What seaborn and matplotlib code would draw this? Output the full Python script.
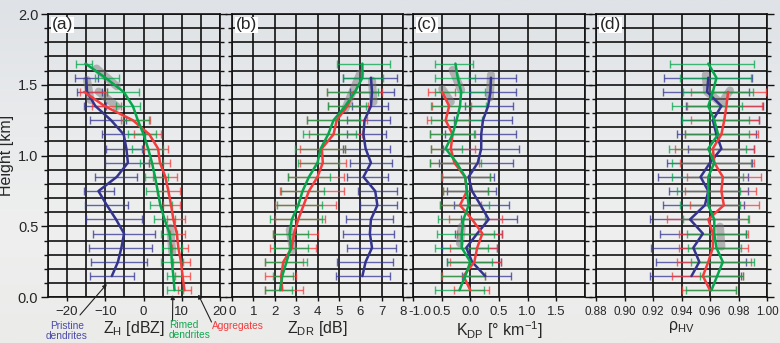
import numpy as np
import pandas as pd
import matplotlib
matplotlib.use("Agg")
import matplotlib.pyplot as plt
import matplotlib.transforms as mtransforms
import seaborn as sns
from matplotlib.ticker import MultipleLocator, FixedLocator, FormatStrFormatter
from matplotlib.colors import LinearSegmentedColormap

sns.set_theme(style="ticks")
plt.rcParams["font.family"] = ["Liberation Sans", "DejaVu Sans"]
plt.rcParams["mathtext.default"] = "regular"

# ---------------------------------------------------------------- data
# bin-centre heights (km) of each hydrometeor class
H_PRIST = [1.55, 1.45, 1.35, 1.25, 1.15, 1.05, 0.95, 0.85, 0.75, 0.65, 0.55, 0.45, 0.35, 0.25, 0.15]
H_AGG = [1.45, 1.35, 1.25, 1.15, 1.05, 0.95, 0.85, 0.75, 0.65, 0.55, 0.45, 0.35, 0.25, 0.15, 0.05]
H_RIMED = [1.65, 1.55, 1.45, 1.35, 1.25, 1.15, 1.05, 0.95, 0.85, 0.75, 0.65, 0.55, 0.45, 0.35, 0.25, 0.15, 0.05]

# Z_H [dBZ]
zh_prist = [-15.0, -14.8, -12.6, -8.5, -5.2, -4.5, -4.1, -7.0, -11.8, -9.6, -7.2, -5.1, -5.8, -6.7, -8.3]
zh_prist_lo = [-18.0, -17.4, -15.6, -14.0, -10.8, -9.7, -10.0, -12.6, -15.7, -15.2, -15.0, -13.1, -14.2, -13.8, -13.9]
zh_prist_hi = [-12.0, -11.0, -9.8, -4.5, 0.5, -0.5, 1.3, -1.7, -7.7, -4.1, -0.4, 2.9, 2.2, 0.9, -2.6]
zh_agg = [-15.5, -10.2, -2.8, 1.5, 3.8, 4.3, 5.7, 6.5, 7.2, 7.8, 8.7, 9.1, 9.8, 10.2, 10.7]
zh_agg_lo = [-16.5, -13.5, -6.0, -2.5, 0.0, 1.5, 2.6, 3.5, 5.2, 6.1, 6.9, 7.4, 7.8, 8.2, 9.1]
zh_agg_hi = [-9.5, -6.0, 1.8, 4.5, 6.5, 7.0, 8.7, 9.6, 9.6, 10.9, 10.9, 11.6, 12.1, 12.1, 12.4]
zh_rimed = [-15.2, -10.0, -5.2, -2.8, -1.5, 0.0, 1.2, 2.2, 3.0, 3.7, 4.4, 5.5, 6.8, 7.2, 7.4, 7.8, 8.1]
zh_rimed_lo = [-17.6, -12.8, -9.5, -7.2, -5.5, -4.0, -3.0, -1.0, 0.5, 0.6, 1.7, 2.8, 4.6, 4.8, 4.6, 6.1, 6.1]
zh_rimed_hi = [-13.5, -6.5, -1.2, -0.8, 1.5, 3.2, 5.0, 5.2, 6.5, 6.5, 7.4, 8.3, 8.7, 10.0, 10.2, 10.0, 10.2]

# Z_DR [dB]
zdr_prist = [6.5, 6.55, 6.5, 6.2, 6.15, 6.25, 6.5, 6.15, 6.7, 6.8, 6.5, 6.45, 6.55, 6.25, 6.1]
zdr_prist_lo = [5.2, 5.5, 5.6, 5.4, 5.4, 5.2, 5.5, 5.4, 5.9, 6.0, 5.35, 5.2, 5.4, 4.9, 4.85]
zdr_prist_hi = [7.7, 7.6, 7.3, 7.4, 7.2, 7.4, 7.5, 7.3, 7.7, 7.7, 7.55, 7.6, 7.65, 7.55, 7.4]
zdr_agg = [5.7, 5.4, 4.9, 4.75, 4.2, 4.25, 4.0, 3.6, 3.35, 3.1, 2.9, 2.8, 2.4, 2.3, 2.35]
zdr_agg_lo = [4.45, 4.5, 3.5, 3.6, 3.2, 3.2, 2.6, 2.25, 2.0, 2.0, 1.9, 1.8, 1.55, 1.55, 1.55]
zdr_agg_hi = [7.0, 6.35, 6.3, 6.1, 5.3, 5.35, 5.25, 5.25, 4.85, 4.35, 4.0, 3.95, 3.3, 3.0, 3.3]
zdr_rimed = [6.1, 6.1, 5.75, 5.3, 4.75, 4.5, 4.15, 4.0, 3.6, 3.3, 3.1, 2.8, 2.7, 2.75, 2.55, 2.35, 2.25]
zdr_rimed_lo = [4.9, 5.2, 4.45, 4.5, 3.5, 3.3, 2.95, 3.1, 2.6, 2.3, 2.1, 1.8, 1.9, 1.95, 1.55, 1.9, 1.55]
zdr_rimed_hi = [7.4, 7.05, 6.85, 6.25, 6.0, 5.8, 5.3, 5.0, 4.6, 4.3, 4.2, 4.2, 3.55, 3.55, 3.5, 2.85, 2.8]

# K_DP [deg/km]
kdp_prist = [0.36, 0.35, 0.31, 0.22, 0.19, 0.19, 0.13, -0.03, 0.03, 0.18, 0.32, 0.12, -0.07, 0.03, 0.26]
kdp_prist_lo = [-0.03, 0.0, -0.09, -0.29, -0.44, -0.47, -0.54, -0.5, -0.41, -0.29, -0.16, -0.26, -0.5, -0.41, -0.15]
kdp_prist_hi = [0.79, 0.79, 0.75, 0.72, 0.79, 0.85, 0.75, 0.41, 0.44, 0.68, 0.82, 0.56, 0.47, 0.53, 0.71]
kdp_agg = [-0.49, -0.37, -0.43, -0.31, -0.34, -0.28, -0.09, -0.06, -0.18, 0.03, 0.21, 0.12, 0.07, -0.12, 0.0]
kdp_agg_lo = [-0.74, -0.66, -0.76, -0.70, -0.69, -0.70, -0.50, -0.48, -0.53, -0.38, -0.24, -0.35, -0.35, -0.50, -0.29]
kdp_agg_hi = [-0.26, 0.01, -0.03, 0.09, 0.09, 0.15, 0.35, 0.31, 0.18, 0.56, 0.56, 0.47, 0.53, 0.26, 0.32]
kdp_rimed = [-0.26, -0.22, -0.16, -0.18, -0.24, -0.31, -0.43, -0.24, -0.09, -0.06, -0.03, -0.12, -0.15, -0.15, 0.0, -0.09, -0.19]
kdp_rimed_lo = [-0.62, -0.62, -0.62, -0.68, -0.68, -0.70, -0.69, -0.70, -0.52, -0.48, -0.53, -0.56, -0.59, -0.62, -0.41, -0.52, -0.62]
kdp_rimed_hi = [0.04, 0.09, 0.26, 0.28, 0.2, 0.07, -0.15, 0.18, 0.34, 0.31, 0.32, 0.25, 0.41, 0.31, 0.38, 0.26, 0.24]

# rho_HV
rho_prist = [0.9588, 0.958, 0.968, 0.962, 0.9645, 0.968, 0.960, 0.9534, 0.9588, 0.9564, 0.946, 0.955, 0.9483, 0.9525, 0.947]
rho_prist_lo = [0.9275, 0.927, 0.943, 0.9397, 0.937, 0.9449, 0.930, 0.9233, 0.931, 0.9268, 0.918, 0.925, 0.9187, 0.922, 0.9178]
rho_prist_hi = [0.9896, 0.9877, 0.997, 0.9947, 0.992, 0.991, 0.9896, 0.9866, 0.987, 0.984, 0.9796, 0.985, 0.9803, 0.985, 0.982]
rho_agg = [0.9727, 0.9715, 0.970, 0.968, 0.962, 0.963, 0.969, 0.968, 0.9697, 0.9588, 0.962, 0.962, 0.9588, 0.955, 0.960]
rho_agg_lo = [0.9465, 0.944, 0.947, 0.9425, 0.9356, 0.9386, 0.9437, 0.9425, 0.946, 0.930, 0.938, 0.938, 0.9367, 0.933, 0.940]
rho_agg_hi = [0.9993, 0.9965, 0.9947, 0.994, 0.991, 0.991, 0.9958, 0.992, 0.9947, 0.9877, 0.987, 0.9866, 0.989, 0.983, 0.978]
rho_rimed = [0.9588, 0.9645, 0.962, 0.9588, 0.963, 0.9657, 0.9588, 0.963, 0.9588, 0.9588, 0.9588, 0.963, 0.963, 0.9645, 0.969, 0.965, 0.961]
rho_rimed_lo = [0.932, 0.9386, 0.941, 0.933, 0.940, 0.9425, 0.931, 0.933, 0.933, 0.9367, 0.9386, 0.941, 0.9437, 0.9449, 0.947, 0.953, 0.943]
rho_rimed_hi = [0.991, 0.989, 0.990, 0.9826, 0.9877, 0.9877, 0.985, 0.989, 0.983, 0.981, 0.981, 0.9866, 0.985, 0.982, 0.991, 0.983, 0.978]

# shaded layers highlighted along the profiles: (values, heights)
zh_shade = [([-12.3, -7.0], [1.615, 1.49]), ([-14.8, -13.9], [1.535, 1.393]),
            ([-11.75, -6.95], [1.452, 1.346]), ([7.0, 7.5], [0.49, 0.32])]
zdr_shade = [([6.0, 5.3], [1.58, 1.33]), ([6.55, 6.62], [1.53, 1.38]), ([2.7, 2.85], [0.475, 0.334])]
kdp_shade = [([-0.31, -0.16], [1.605, 1.464]), ([-0.49, -0.34], [1.47, 1.38]),
             ([0.36, 0.34], [1.57, 1.41]), ([-0.15, -0.18], [0.5, 0.38])]
rho_shade = [([0.957, 0.958, 0.968, 0.974], [1.57, 1.45, 1.37, 1.46]), ([0.967, 0.968], [0.499, 0.358])]

CLASSES = ["Pristine dendrites", "Aggregates", "Rimed dendrites"]
COLORS = {"Pristine dendrites": "#34348f", "Aggregates": "#f53b3b", "Rimed dendrites": "#06a64c"}
HEIGHTS = {"Pristine dendrites": H_PRIST, "Aggregates": H_AGG, "Rimed dendrites": H_RIMED}

panels = [
    dict(tag="(a)", xlim=(-25, 20), xlabel="Z$_{H}$ [dBZ]",
         ticks=[-20, -10, 0, 10, 20], labels=["\u221220", "\u221210", "0", "10", "20"],
         grid=[-25, -20, -15, -10, -5, 0, 5, 10, 15, 20], lsize=9.5,
         series={"Pristine dendrites": (zh_prist, zh_prist_lo, zh_prist_hi),
                 "Aggregates": (zh_agg, zh_agg_lo, zh_agg_hi),
                 "Rimed dendrites": (zh_rimed, zh_rimed_lo, zh_rimed_hi)},
         shade=zh_shade),
    dict(tag="(b)", xlim=(0, 8), xlabel="Z$_{DR}$ [dB]",
         ticks=[0, 1, 2, 3, 4, 5, 6, 7, 8], labels=[str(i) for i in range(9)],
         grid=[0, 1, 2, 3, 4, 5, 6, 7, 8], lsize=9.5,
         series={"Pristine dendrites": (zdr_prist, zdr_prist_lo, zdr_prist_hi),
                 "Aggregates": (zdr_agg, zdr_agg_lo, zdr_agg_hi),
                 "Rimed dendrites": (zdr_rimed, zdr_rimed_lo, zdr_rimed_hi)},
         shade=zdr_shade),
    dict(tag="(c)", xlim=(-1.0, 2.0), xlabel="K$_{DP}$ [\u00b0 km$^{-1}$]",
         ticks=[-1.0, -0.5, 0.0, 0.5, 1.0, 1.5], labels=["-1.0", "0.5", "0.0", "0.5", "1.0", "1.5"],
         grid=[-1.0, -0.5, 0.0, 0.5, 1.0, 1.5, 2.0], lsize=9.5,
         series={"Pristine dendrites": (kdp_prist, kdp_prist_lo, kdp_prist_hi),
                 "Aggregates": (kdp_agg, kdp_agg_lo, kdp_agg_hi),
                 "Rimed dendrites": (kdp_rimed, kdp_rimed_lo, kdp_rimed_hi)},
         shade=kdp_shade),
    dict(tag="(d)", xlim=(0.88, 1.00), xlabel="\u03c1$_{HV}$",
         ticks=[0.88, 0.90, 0.92, 0.94, 0.96, 0.98, 1.00],
         labels=["0.88", "0.90", "0.92", "0.94", "0.96", "0.98", "1.00"],
         grid=[0.88, 0.90, 0.92, 0.94, 0.96, 0.98, 1.00], lsize=8.4,
         series={"Pristine dendrites": (rho_prist, rho_prist_lo, rho_prist_hi),
                 "Aggregates": (rho_agg, rho_agg_lo, rho_agg_hi),
                 "Rimed dendrites": (rho_rimed, rho_rimed_lo, rho_rimed_hi)},
         shade=rho_shade),
]

# ---------------------------------------------------------------- figure
W, H = 780, 343
fig = plt.figure(figsize=(W / 100, H / 100), dpi=100)

# pale sky backdrop
bg = fig.add_axes([0, 0, 1, 1])
sky = LinearSegmentedColormap.from_list("sky", ["#dfe2e6", "#e8eaec", "#eeefee", "#ebebea"])
bg.imshow(np.linspace(0, 1, 256)[:, None], aspect="auto", cmap=sky, extent=[0, 1, 0, 1])
bg.set_axis_off()
bg.set_zorder(-5)

lefts = [48, 232, 413, 596]
widths = [172, 171, 172, 171]
top_px, bot_px = 14, 297.3
axes = []
for i, p in enumerate(panels):
    ax = fig.add_axes([lefts[i] / W, 1 - bot_px / H, widths[i] / W, (bot_px - top_px) / H])
    ax.set_facecolor("none")
    axes.append(ax)

    # highlighted layers
    for sx, sy in p["shade"]:
        ax.plot(sx, sy, color="#7a7a7a", lw=5.8, alpha=0.5, solid_capstyle="round",
                solid_joinstyle="round", zorder=2.5)

    # spread of each class
    for name in CLASSES:
        v, lo, hi = p["series"][name]
        lo = np.asarray(lo); hi = np.asarray(hi)
        ax.errorbar((lo + hi) / 2, HEIGHTS[name], xerr=(hi - lo) / 2, fmt="none",
                    ecolor=COLORS[name], elinewidth=1.0, capsize=2.8, capthick=1.0,
                    alpha=0.75, zorder=3)

    # mean profiles
    frames = [pd.DataFrame({"value": p["series"][n][0], "height": HEIGHTS[n], "class": n})
              for n in CLASSES]
    df = pd.concat(frames, ignore_index=True)
    sns.lineplot(data=df, x="value", y="height", hue="class", hue_order=CLASSES,
                 palette=COLORS, orient="y", sort=True, estimator=None, lw=1.8,
                 legend=False, ax=ax, zorder=4)

    ax.set_xlim(*p["xlim"])
    ax.set_ylim(0, 2.0)
    ax.xaxis.set_major_locator(FixedLocator(p["ticks"]))
    ax.set_xticklabels(p["labels"])
    ax.xaxis.set_minor_locator(FixedLocator(p["grid"]))
    ax.yaxis.set_major_locator(MultipleLocator(0.5))
    ax.yaxis.set_minor_locator(MultipleLocator(0.1))
    ax.yaxis.set_major_formatter(FormatStrFormatter("%.1f"))

    ax.grid(which="both", axis="both", color="#111111", lw=1.2, zorder=1)
    ax.set_axisbelow(True)
    for s in ax.spines.values():
        s.set_color("#111111")
        s.set_linewidth(1.2)

    ax.tick_params(axis="y", which="both", direction="out", left=True, right=True,
                   color="#111111", width=1.0, labelsize=10.5, pad=2)
    ax.tick_params(axis="y", which="major", length=5)
    ax.tick_params(axis="y", which="minor", length=3)
    ax.tick_params(axis="x", which="major", direction="out", length=3, width=1.0,
                   color="#111111", labelsize=p["lsize"], pad=3)
    ax.tick_params(axis="x", which="minor", length=0)
    if i > 0:
        ax.tick_params(axis="y", labelleft=False)
    ax.set_ylabel("Height [km]" if i == 0 else "", fontsize=11.5, labelpad=3)
    ax.set_xlabel(p["xlabel"], fontsize=11.5, labelpad=1)

    ax.text(0.022, 0.988, p["tag"], transform=ax.transAxes, ha="left", va="top",
            fontsize=12.5, zorder=6,
            bbox=dict(facecolor="white", edgecolor="none", pad=0.6))

# the first K_DP label sits just right of its tick, clear of the "8" beside it
fig.canvas.draw()
first = axes[2].get_xticklabels()[0]
first.set_transform(first.get_transform() +
                    mtransforms.ScaledTranslation(7 / 100, 0, fig.dpi_scale_trans))

# class labels with pointers into panel (a)
ax_a = axes[0]
arrow = dict(arrowstyle="-|>", color="#222222", lw=0.8, mutation_scale=6,
             shrinkA=0, shrinkB=0)
ax_a.annotate("", xy=(-9.6, 0.094), xytext=(80, 28), textcoords="figure pixels",
              arrowprops=arrow, annotation_clip=False)
ax_a.annotate("", xy=(7.65, 0.016), xytext=(172.5, 22), textcoords="figure pixels",
              arrowprops=arrow, annotation_clip=False)
ax_a.annotate("", xy=(14.3, 0.02), xytext=(211.5, 21), textcoords="figure pixels",
              arrowprops=arrow, annotation_clip=False)
fig.text(67 / W, 1 - 321 / H, "Pristine\ndendrites", ha="center", va="top",
         color="#4b4ba8", fontsize=7.3, linespacing=1.05)
fig.text(169 / W, 1 - 320 / H, "Rimed\ndendrites", ha="left", va="top",
         color="#12a84f", fontsize=7.3, linespacing=0.95)
fig.text(212 / W, 1 - 321 / H, "Aggregates", ha="left", va="top",
         color="#f23c3c", fontsize=7.3)

fig.savefig("out.png", dpi=100)
